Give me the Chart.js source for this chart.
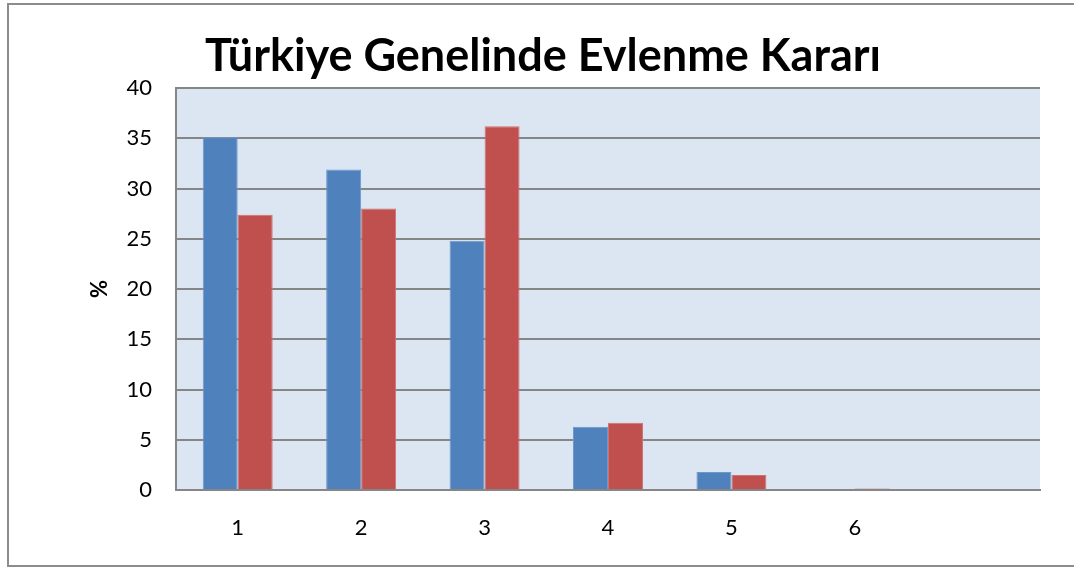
<!DOCTYPE html>
<html>
<head>
<meta charset="utf-8">
<script src="https://cdn.jsdelivr.net/npm/chart.js@4/dist/chart.umd.min.js"></script>
<style>
html,body{margin:0;padding:0;background:#fff;}
#wrap{width:1074px;height:568px;}
</style>
</head>
<body>
<div id="wrap"><canvas id="c" width="1074" height="568"></canvas></div>
<script>
const categories = ['1', '2', '3', '4', '5', '6', ''];
const series1 = [35.1, 31.9, 24.8, 6.3, 1.8, 0.1, null];
const series2 = [27.4, 28.0, 36.2, 6.7, 1.5, 0.15, null];
const yTicks = [0, 5, 10, 15, 20, 25, 30, 35, 40];
const chartTitle = 'Türkiye Genelinde Evlenme Kararı';
const yTitle = '%';

const frame = {
  id: 'frame',
  beforeDraw(chart) {
    const ctx = chart.ctx;
    ctx.save();
    ctx.fillStyle = '#ffffff';
    ctx.fillRect(0, 0, chart.width, chart.height);
    ctx.strokeStyle = '#8c8c8c';
    ctx.lineWidth = 2;
    ctx.strokeRect(8, 4, 1080, 562);
    const a = chart.chartArea;
    ctx.fillStyle = '#DCE6F2';
    ctx.fillRect(a.left, a.top, a.right - a.left, a.bottom - a.top);
    ctx.restore();
  }
};

new Chart(document.getElementById('c'), {
  type: 'bar',
  data: {
    labels: categories,
    datasets: [
      { label: 'Seri 1', data: series1, backgroundColor: '#4F81BD', borderColor: '#6E98CB', borderWidth: 1 },
      { label: 'Seri 2', data: series2, backgroundColor: '#C0504D', borderColor: '#CF716E', borderWidth: 1 }
    ]
  },
  options: {
    responsive: false,
    animation: false,
    devicePixelRatio: 1,
    layout: { padding: { left: 46, right: 34, top: 0, bottom: 0 } },
    datasets: { bar: { categoryPercentage: 0.567, barPercentage: 1.0 } },
    plugins: {
      legend: { display: false },
      tooltip: { enabled: false },
      title: {
        display: true,
        text: chartTitle,
        color: '#000',
        font: { family: 'Lato', size: 45, weight: 'bold', lineHeight: 1.2 },
        padding: { top: 29, bottom: 5 }
      }
    },
    scales: {
      x: {
        grid: { display: false, drawTicks: false },
        border: { display: true, color: '#868686', width: 2 },
        ticks: { color: '#000', font: { family: 'Lato', size: 22 }, padding: 25, maxRotation: 0 },
        afterFit(scale) { scale.height = 78; }
      },
      y: {
        min: 0, max: 40,
        afterBuildTicks(scale) { scale.ticks = yTicks.map(v => ({ value: v })); },
        grid: { color: '#868686', lineWidth: 2, drawTicks: false },
        border: { display: true, color: '#868686', width: 2 },
        ticks: { color: '#000', font: { family: 'Lato', size: 22 }, padding: 24 },
        title: {
          display: true, text: yTitle, color: '#000',
          font: { family: 'Lato', size: 22, weight: 'bold', lineHeight: 1.2 },
          padding: { top: 41, bottom: 0 }
        },
        afterFit(scale) { scale.width = 130; }
      }
    }
  },
  plugins: [frame]
});
</script>
</body>
</html>
